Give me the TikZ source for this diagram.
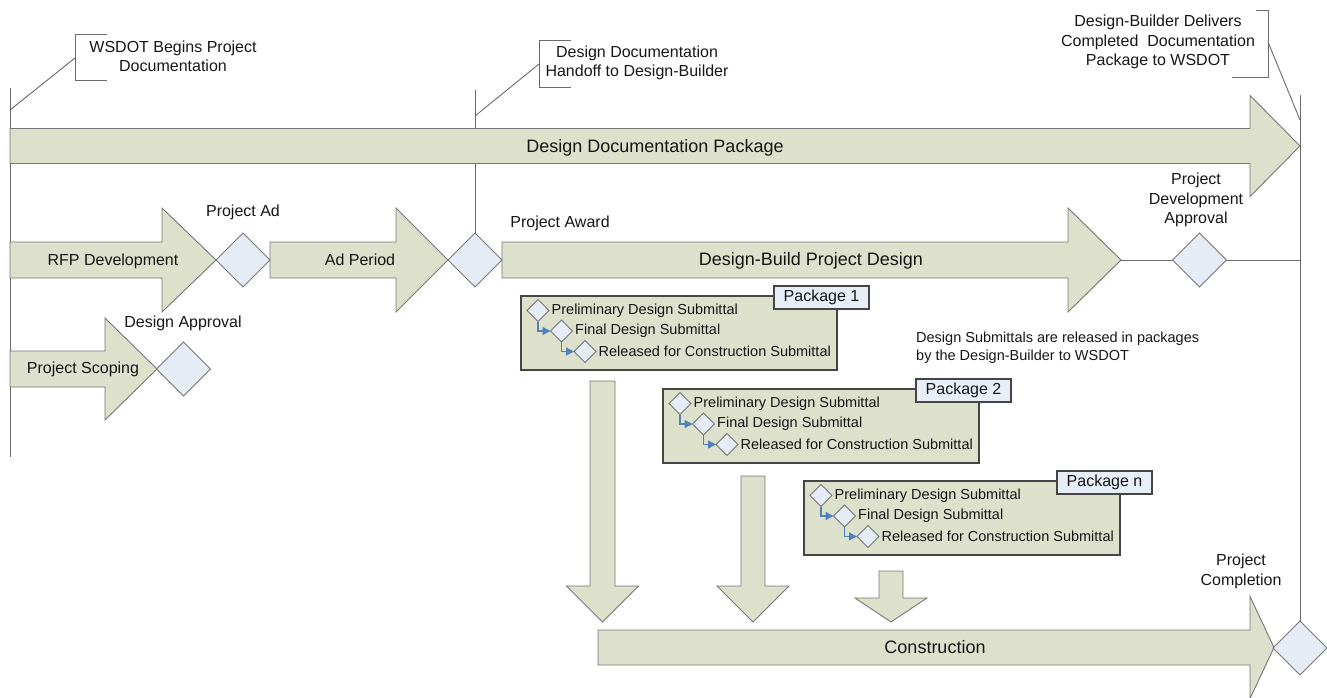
\documentclass[tikz,border=0pt]{standalone}
\usepackage{fontspec}
\setmainfont{Liberation Sans}
\usetikzlibrary{shapes.geometric,arrows.meta}
\definecolor{arrowfill}{HTML}{DDE0CB}
\definecolor{arrowline}{HTML}{767676}
\definecolor{diafill}{HTML}{E6ECF6}
\definecolor{lblfill}{HTML}{E8EEF8}
\definecolor{boxline}{HTML}{454545}
\definecolor{connblue}{HTML}{4F81BD}
\definecolor{guide}{HTML}{6A6A6A}
\definecolor{txt}{HTML}{161616}
\pgfdeclarelayer{bg}
\pgfsetlayers{bg,main}
\newcommand\myharrow[6]{\path[arr] (#1,{#4-#5}) -- (#2,{#4-#5}) -- (#2,{#4-#6}) -- (#3,#4) -- (#2,{#4+#6}) -- (#2,{#4+#5}) -- (#1,{#4+#5}) -- cycle;}
\newcommand\myvarrow[6]{\path[arr] ({#1-#5},#2) -- ({#1-#5},#3) -- ({#1-#6},#3) -- (#1,#4) -- ({#1+#6},#3) -- ({#1+#5},#3) -- ({#1+#5},#2) -- cycle;}
\newcommand\mypkg[4]{%
  \node[pkgbox, anchor=north west] (#1box) at (#2,#3) {};
  \node[pkglbl, anchor=north west] (#1lbl) at ({#2+253},{#3-10}) {#4};
  \node[sdia] (#1d1) at ({#2+17},{#3+14.5}) {};
  \node[sdia] (#1d2) at ({#2+40.5},{#3+35}) {};
  \node[sdia] (#1d3) at ({#2+64},{#3+55.5}) {};
  \node[item] (#1t1) at ([xshift=2.5pt]#1d1.east) {Preliminary Design Submittal};
  \node[item] (#1t2) at ([xshift=2.5pt]#1d2.east) {Final Design Submittal};
  \node[item] (#1t3) at ([xshift=2.5pt]#1d3.east) {Released for Construction Submittal};
  \draw[pconn] (#1d1.south) |- (#1d2.west);
  \draw[pconn] (#1d2.south) |- (#1d3.west);
}
\tikzset{
  arr/.style={fill=arrowfill, draw=arrowline, line width=0.9pt, line join=miter},
  dia/.style={diamond, aspect=1, fill=diafill, draw=arrowline, line width=0.9pt, inner sep=0pt, outer sep=0pt, minimum width=54pt, minimum height=54pt},
  sdia/.style={diamond, aspect=1, fill=diafill, draw=arrowline, line width=0.9pt, inner sep=0pt, outer sep=0pt, minimum width=22pt, minimum height=22pt},
  pkgbox/.style={rectangle, fill=arrowfill, draw=boxline, line width=1.1pt, inner sep=0pt, outer sep=0pt, minimum width=316pt, minimum height=74pt},
  pkglbl/.style={rectangle, fill=lblfill, draw=boxline, line width=1.1pt, inner sep=0pt, outer sep=0pt, minimum width=95pt, minimum height=23pt, text=txt, font=\fontsize{16}{19}\selectfont},
  item/.style={anchor=west, inner sep=0pt, text=txt, font=\fontsize{14.5}{17}\selectfont},
  pconn/.style={draw=connblue, line width=1.3pt, -{Triangle[length=8pt,width=8pt]}},
  guideln/.style={draw=guide, line width=0.9pt},
  bigtxt/.style={inner sep=0pt, anchor=base, text=txt, font=\fontsize{18}{21}\selectfont},
  midtxt/.style={inner sep=0pt, anchor=base, text=txt, font=\fontsize{16}{19}\selectfont},
  lbl/.style={inner sep=0pt, align=center, text=txt, font=\fontsize{16}{19.5}\selectfont},
  note/.style={inner sep=0pt, align=left, text=txt, font=\fontsize{14.5}{18}\selectfont},
}
\begin{document}
\begin{tikzpicture}[x=1pt,y=-1pt]
\useasboundingbox (0,0) rectangle (1327,698);
% big arrows
\myharrow{10}{1250}{1300}{146}{17.5}{50.5}
\myharrow{10}{162}{216}{260}{18}{52}
\myharrow{270}{396}{448}{260}{18}{52}
\myharrow{502}{1068}{1121}{260}{18}{52}
\myharrow{10}{105}{157}{369}{18}{51}
\myharrow{598}{1250}{1274}{647.5}{17.5}{51}
% down arrows
\myvarrow{602.5}{381}{586}{622}{12.5}{36}
\myvarrow{753}{476}{586}{622}{12}{36}
\myvarrow{891}{571}{598}{622}{12}{36}
\coordinate (DBtip) at (1121,260);
% milestones
\node[dia] (dPA) at (243,260) {};
\node[dia] (dAw) at (475,260) {};
\node[dia] (dDA) at (183.5,369) {};
\node[dia] (dPDA) at (1199.5,260) {};
\node[dia] (dPC) at (1300,648) {};
% packages
\mypkg{pa}{521}{296}{Package 1}
\mypkg{pb}{663}{389}{Package 2}
\mypkg{pc}{804}{481}{Package n}
% arrow texts
\node[bigtxt] (tDDP) at (655,152.5) {Design Documentation Package};
\node[bigtxt] (tDB) at (811,265.5) {Design-Build Project Design};
\node[midtxt] (tRFP) at (113,265.7) {RFP Development};
\node[midtxt] (tAP) at (360,265.7) {Ad Period};
\node[midtxt] (tPS) at (83,373.7) {Project Scoping};
\node[bigtxt] (tCon) at (935,653.5) {Construction};
% labels
\node[lbl] (lPA) at (243,212) {Project Ad};
\node[lbl] (lDA) at (183,323) {Design Approval};
\node[lbl] (lAw) at (560,223) {Project Award};
\node[lbl] (lPDA) at (1196,200) {Project\\Development\\Approval};
\node[lbl] (lPC) at (1241,571.5) {Project\\Completion};
\node[note, anchor=west] (note) at (916,348) {Design Submittals are released in packages\\by the Design-Builder to WSDOT};
% callouts
\node[lbl] (c1) at (173,56.5) {WSDOT Begins Project\\Documentation};
\node[lbl] (c2) at (637,63) {Design Documentation\\Handoff to Design-Builder};
\node[lbl] (c3) at (1158,42) {Design-Builder Delivers\\Completed\ \ Documentation\\Package to WSDOT};
% guide lines
\coordinate (L1a) at (10,88);
\coordinate (L1b) at (10,457);
\coordinate (L1c) at (10,110);
\coordinate (L2a) at (475,90);
\coordinate (L2c) at (475,116);
\coordinate (L3a) at (1300,95);
\coordinate (L3c) at (1300,120);
\coordinate (Rmid) at (1300,260);
\begin{pgfonlayer}{bg}
\draw[guideln] (L1a) -- (L1b);
\draw[guideln] (L2a) -- (dAw.north);
\draw[guideln] (L3a) -- (dPC.north);
\draw[guideln] (DBtip) -- (dPDA.west);
\draw[guideln] (dPDA.east) -- (Rmid);
\draw[guideln] (L1c) -- (75,58);
\draw[guideln] (107,34) -- (75,34) -- (75,80.5) -- (107,80.5);
\draw[guideln] (L2c) -- (539,64);
\draw[guideln] (571,40) -- (539,40) -- (539,87) -- (571,87);
\draw[guideln] (L3c) -- (1268,42);
\draw[guideln] (1256,10) -- (1268,10) -- (1268,77) -- (1232,77);
\end{pgfonlayer}
\end{tikzpicture}
\end{document}
